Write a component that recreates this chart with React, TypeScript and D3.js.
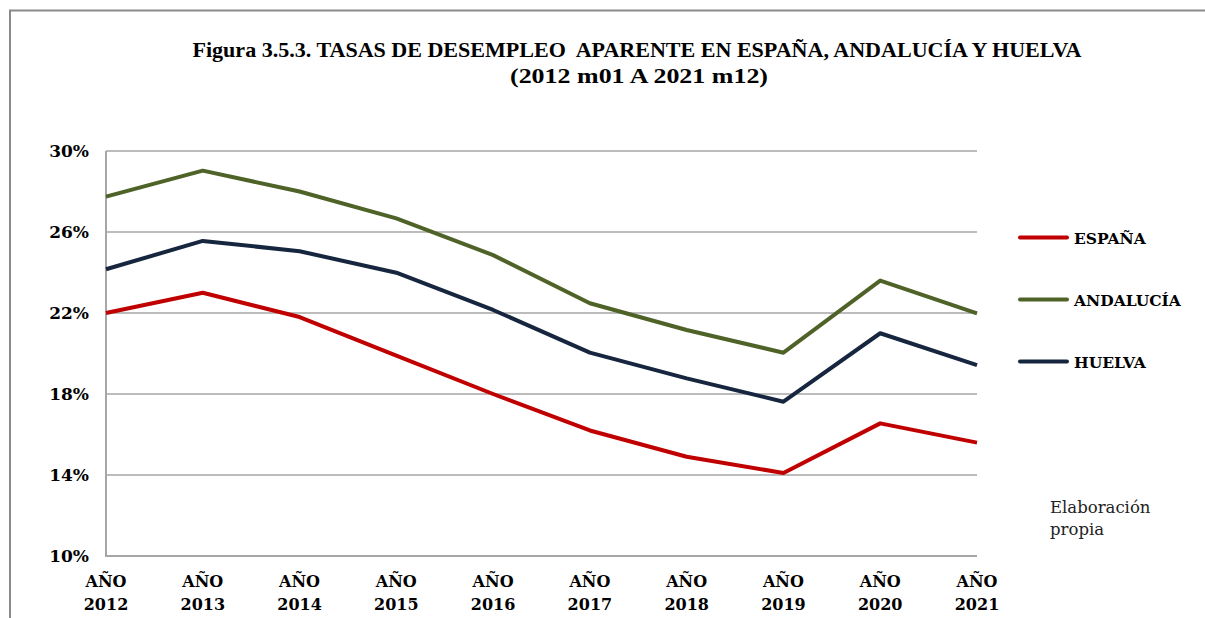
import React from "react";
import * as d3 from "d3";

const years = ["2012", "2013", "2014", "2015", "2016", "2017", "2018", "2019", "2020", "2021"];
const espana = [22.0, 23.0, 21.8, 19.9, 18.0, 16.2, 14.9, 14.1, 16.55, 15.6];
const andalucia = [27.75, 29.03, 28.0, 26.67, 24.86, 22.48, 21.16, 20.04, 23.6, 21.98];
const huelva = [24.16, 25.56, 25.05, 23.99, 22.15, 20.04, 18.77, 17.62, 21.0, 19.43];
const yTicks = [10, 14, 18, 22, 26, 30];
const seriesNames = ["ESPAÑA", "ANDALUCÍA", "HUELVA"];
const seriesColors = ["#C00000", "#4F6228", "#17263F"];

const W = 1205;
const H = 618;
const left = 106;
const right = 977;
const top = 151;
const bottom = 556;

export default function App() {
  const x = d3.scalePoint<string>().domain(years).range([left, right]);
  const y = d3.scaleLinear().domain([10, 30]).range([bottom, top]);
  const line = d3
    .line<number>()
    .x((_, i) => x(years[i]) as number)
    .y((d) => y(d));
  const all = [espana, andalucia, huelva];
  const serifBold = "'DejaVu Serif', serif";
  return (
    <svg
      width={W}
      height={H}
      style={{ position: "absolute", left: 0, top: 0, display: "block", background: "#fff" }}
    >
      <rect x={0} y={0} width={W} height={H} fill="#fff" />
      <path d={`M10,${H} L10,10.5 L${W},10.5`} fill="none" stroke="#8a8a8a" strokeWidth={2} />
      <text
        x={637}
        y={56.5}
        textAnchor="middle"
        fontFamily="'Liberation Serif', serif"
        fontWeight="bold"
        fontSize={21}
        textLength={889}
        lengthAdjust="spacingAndGlyphs"
        fill="#000"
        style={{ whiteSpace: "pre" }}
      >
        {"Figura 3.5.3. TASAS DE DESEMPLEO  APARENTE EN ESPAÑA, ANDALUCÍA Y HUELVA"}
      </text>
      <text
        x={639}
        y={82.5}
        textAnchor="middle"
        fontFamily="'Liberation Serif', serif"
        fontWeight="bold"
        fontSize={21}
        textLength={258}
        lengthAdjust="spacingAndGlyphs"
        fill="#000"
      >
        (2012 m01 A 2021 m12)
      </text>
      {yTicks.map((t) => (
        <line
          key={t}
          x1={left}
          x2={right}
          y1={y(t)}
          y2={y(t)}
          stroke="#a6a6a6"
          strokeWidth={t === 10 ? 2 : 1.5}
        />
      ))}
      <line x1={left} x2={left} y1={top} y2={bottom + 1} stroke="#a6a6a6" strokeWidth={2} />
      {yTicks.map((t) => (
        <text
          key={"l" + t}
          x={89}
          y={y(t) + 6}
          textAnchor="end"
          fontFamily={serifBold}
          fontWeight="bold"
          fontSize={17}
          fill="#000"
        >
          {t}%
        </text>
      ))}
      {years.map((yr) => (
        <g key={yr}>
          <text
            x={x(yr)}
            y={587}
            textAnchor="middle"
            fontFamily={serifBold}
            fontWeight="bold"
            fontSize={16}
            fill="#000"
          >
            AÑO
          </text>
          <text
            x={x(yr)}
            y={610}
            textAnchor="middle"
            fontFamily={serifBold}
            fontWeight="bold"
            fontSize={16}
            fill="#000"
          >
            {yr}
          </text>
        </g>
      ))}
      {all.map((s, i) => (
        <path
          key={i}
          d={line(s) as string}
          fill="none"
          stroke={seriesColors[i]}
          strokeWidth={4}
          strokeLinejoin="round"
        />
      ))}
      {seriesNames.map((n, i) => {
        const ly = 237.5 + i * 62;
        return (
          <g key={n}>
            <line x1={1020} x2={1067} y1={ly} y2={ly} stroke={seriesColors[i]} strokeWidth={4} strokeLinecap="round" />
            <text
              x={1074}
              y={ly + 6}
              fontFamily={serifBold}
              fontWeight="bold"
              fontSize={15.5}
              fill="#000"
            >
              {n}
            </text>
          </g>
        );
      })}
      <text x={1050} y={513} fontFamily="'DejaVu Serif', serif" fontSize={16.5} fill="#222">
        Elaboración
      </text>
      <text x={1050} y={535} fontFamily="'DejaVu Serif', serif" fontSize={16.5} fill="#222">
        propia
      </text>
    </svg>
  );
}
